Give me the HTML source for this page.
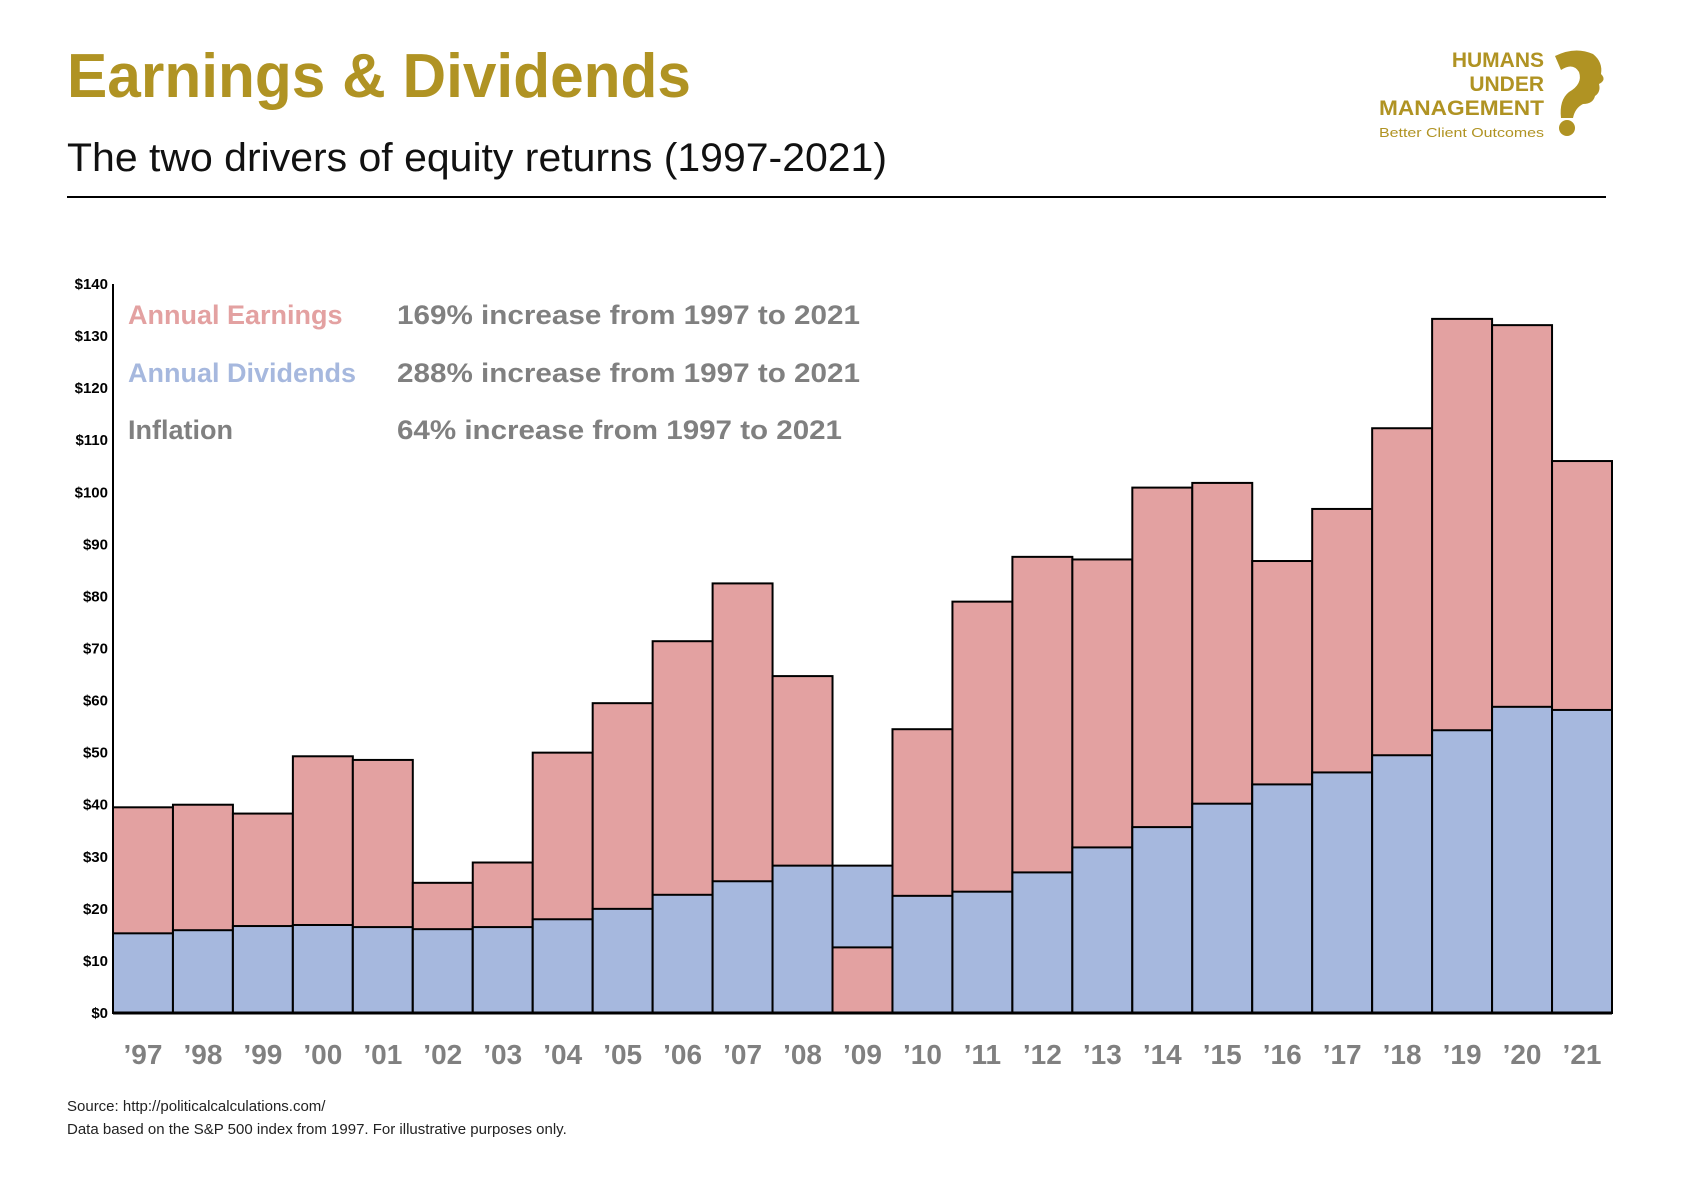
<!DOCTYPE html>
<html><head><meta charset="utf-8"><style>
html,body{margin:0;padding:0;background:#fff;}
svg{display:block;}
text{font-family:"Liberation Sans",sans-serif;}
</style></head><body>
<svg id="chart" width="1684" height="1190" viewBox="0 0 1684 1190" xmlns="http://www.w3.org/2000/svg">
<text x="67" y="97" font-size="62" font-weight="bold" fill="#b09323" textLength="624" lengthAdjust="spacingAndGlyphs">Earnings &amp; Dividends</text>
<text x="67" y="171" font-size="40" fill="#111" textLength="820" lengthAdjust="spacingAndGlyphs">The two drivers of equity returns (1997-2021)</text>
<rect x="67" y="196" width="1539" height="2" fill="#000"/>
<g fill="#b09323" font-weight="bold" text-anchor="end">
<text x="1544" y="67" font-size="21">HUMANS</text>
<text x="1544" y="91" font-size="21">UNDER</text>
<text x="1544" y="115" font-size="21" textLength="165" lengthAdjust="spacingAndGlyphs">MANAGEMENT</text>
<text x="1544" y="137" font-size="13" font-weight="normal" textLength="165" lengthAdjust="spacingAndGlyphs">Better Client Outcomes</text>
<path d="M1555 56 Q1575 46 1593 54 Q1603 62 1601 74 Q1607 80 1599 84 Q1601 92 1595 96 Q1593 104 1583 104 Q1575 108 1573 118 L1561 118 Q1559 100 1569 92 Q1583 84 1579 72 Q1573 62 1561 70 Z"/>
<ellipse cx="1567" cy="128" rx="8" ry="8"/>
</g>
<g id="axes"></g>
<g id="bars"></g>
<g id="legend" font-size="27" font-weight="bold">
<text x="128" y="324" fill="#e3a1a1">Annual Earnings</text>
<text x="128" y="382" fill="#a6b8de">Annual Dividends</text>
<text x="128" y="439" fill="#808080">Inflation</text>
<text x="397" y="324" fill="#808080" textLength="463" lengthAdjust="spacingAndGlyphs">169% increase from 1997 to 2021</text>
<text x="397" y="382" fill="#808080" textLength="463" lengthAdjust="spacingAndGlyphs">288% increase from 1997 to 2021</text>
<text x="397" y="439" fill="#808080" textLength="445" lengthAdjust="spacingAndGlyphs">64% increase from 1997 to 2021</text>
</g>
<text x="67" y="1111" font-size="15" fill="#222">Source: http://politicalcalculations.com/</text>
<text x="67" y="1134" font-size="15" fill="#222">Data based on the S&amp;P 500 index from 1997. For illustrative purposes only.</text>
</svg>
<script>
const years = ["'97","'98","'99","'00","'01","'02","'03","'04","'05","'06","'07","'08","'09","'10","'11","'12","'13","'14","'15","'16","'17","'18","'19","'20","'21"];
const earnings = [39.5,40,38.3,49.3,48.6,25,28.9,50,59.5,71.4,82.5,64.7,12.6,54.5,79,87.6,87.1,100.9,101.8,86.8,96.8,112.3,133.3,132.1,106];
const dividends = [15.3,15.9,16.7,16.9,16.5,16.1,16.5,18,20,22.7,25.3,28.3,28.3,22.5,23.3,27,31.8,35.7,40.2,43.9,46.2,49.5,54.3,58.8,58.2];
const yTicks = [0,10,20,30,40,50,60,70,80,90,100,110,120,130,140];

const NS = "http://www.w3.org/2000/svg";
const X0 = 113, X1 = 1612, Y0 = 1013, YTOP = 284, YMAX = 140;
const bw = (X1 - X0) / years.length;
const xs = i => X0 + i * bw;
const ys = v => Y0 - (v / YMAX) * (Y0 - YTOP);
function mk(tag, attrs, parent) {
  const e = document.createElementNS(NS, tag);
  for (const k in attrs) e.setAttribute(k, attrs[k]);
  parent.appendChild(e);
  return e;
}
const axes = document.getElementById('axes');
const bars = document.getElementById('bars');
yTicks.forEach(t => {
  const tx = mk('text', {x: 108, y: ys(t) + 5, 'font-size': 15, 'font-weight': 'bold', 'text-anchor': 'end', fill: '#000'}, axes);
  tx.textContent = '$' + t;
  
  
});
years.forEach((y, i) => {
  const e = earnings[i], d = dividends[i];
  const order = e >= d ? [['e', e], ['d', d]] : [['d', d], ['e', e]];
  order.forEach(([k, v]) => {
    const r = mk('rect', {x: xs(i), y: ys(v), width: bw, height: Y0 - ys(v), fill: k === 'e' ? '#e3a1a1' : '#a6b8de', stroke: '#000', 'stroke-width': 2}, bars);
    
    
  });
  const lt = mk('text', {x: xs(i) + bw / 2, y: 1064, 'font-size': 28, 'font-weight': 'bold', 'text-anchor': 'middle', fill: '#808080'}, axes);
  lt.textContent = y.replace("'", "\u2019");
  
  
});
const yl = mk('line', {x1: X0, y1: YTOP, x2: X0, y2: Y0 + 1, stroke: '#000', 'stroke-width': 2}, bars);


const xl = mk('line', {x1: X0, y1: Y0, x2: X1, y2: Y0, stroke: '#000', 'stroke-width': 3}, bars);


</script>
</body></html>
